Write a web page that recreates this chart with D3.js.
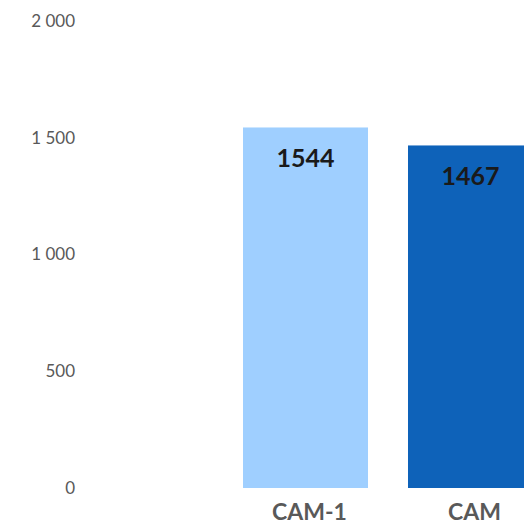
<!DOCTYPE html>
<html lang="en">
<head>
<meta charset="UTF-8">
<title>CAM</title>
<style>
  body { margin: 0; background: #fff; }
  svg { display: block; }
  svg text { font-family: Lato, "Open Sans", sans-serif; }
</style>
</head>
<body>
<script src="https://cdn.jsdelivr.net/npm/d3@7"></script>
<script>
    const categories = ["CAM-1", "CAM"];
    const values = [1544, 1467];
    const colors = ["#9fcfff", "#0e62b9"];
    const yTicks = [0, 500, 1000, 1500, 2000];

    let width = 524;
    let height = 525;

    let svg = d3.select("body")
                .append("svg")
                .attr("width", width)
                .attr("height", height);

    const x = d3.scaleBand()
        .domain(categories)
        .range([223, 553])
        .paddingInner(0.2424)
        .paddingOuter(0.1212);

    const y = d3.scaleLinear()
        .domain([0, 2000])
        .range([488, 21]);

    const fmt = d3.formatLocale({ decimal: ",", thousands: "\u00a0", grouping: [3], currency: ["", ""] }).format(",d");

    // y axis labels only
    const yAxis = d3.axisLeft(y).tickValues(yTicks).tickFormat(fmt).tickSize(0).tickPadding(0);
    const gy = svg.append("g").attr("transform", "translate(75,0)").call(yAxis);
    gy.select(".domain").remove();
    gy.selectAll("text")
        .attr("fill", "#595959")
        .style("font-size", "17px")
        .attr("dy", "0.32em");

    svg.selectAll("rect.bar")
        .data(values)
        .enter().append("rect")
        .attr("class", "bar")
        .attr("x", (d, i) => x(categories[i]))
        .attr("y", d => y(d))
        .attr("width", x.bandwidth())
        .attr("height", d => y(0) - y(d))
        .attr("fill", (d, i) => colors[i]);

    svg.selectAll("text.val")
        .data(values)
        .enter().append("text")
        .attr("class", "val")
        .attr("x", (d, i) => x(categories[i]) + x.bandwidth() / 2)
        .attr("y", d => y(d) + 40)
        .attr("text-anchor", "middle")
        .attr("fill", "#1a1a1a")
        .style("font-size", "25px")
        .style("font-weight", "bold")
        .text(d => d);

    // x axis category labels
    const xAxis = d3.axisBottom(x).tickSize(0).tickPadding(0);
    const gx = svg.append("g").attr("transform", "translate(4,513)").call(xAxis);
    gx.select(".domain").remove();
    gx.selectAll("text")
        .attr("dy", "0.32em")
        .attr("y", 0)
        .attr("fill", "#595959")
        .style("font-size", "23px")
        .style("font-weight", "bold");
</script>
</body>
</html>
